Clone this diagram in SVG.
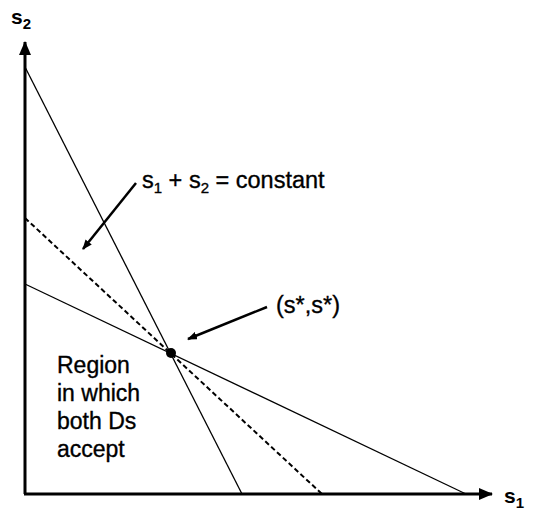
<svg xmlns="http://www.w3.org/2000/svg" width="535" height="510" viewBox="0 0 535 510">
<style>
text{font-family:"Liberation Sans",Arial,sans-serif;fill:#000}
.lbl{font-size:23.5px;stroke:#000;stroke-width:0.35}
.reg{font-size:23px;stroke:#000;stroke-width:0.35}
.ax{font-size:21px;font-weight:bold}
.sub{font-size:15px}
.thin{stroke:#000;stroke-width:1.3;fill:none}
.dash{stroke:#000;stroke-width:2;stroke-dasharray:5,3;fill:none}
.axis{stroke:#000;stroke-width:3;fill:none}
.ptr{stroke:#000;stroke-width:2.5;fill:none}
</style>
<defs>
<marker id="ah" markerWidth="10" markerHeight="8" refX="9" refY="4" orient="auto" markerUnits="userSpaceOnUse"><path d="M0,0 L10,4 L0,8 z" fill="#000"/></marker>
<marker id="ax" markerWidth="14" markerHeight="12" refX="13" refY="6" orient="auto" markerUnits="userSpaceOnUse"><path d="M0,0 L14,6 L0,12 z" fill="#000"/></marker>
</defs>
<g id="axes">
<line class="axis" x1="25" y1="494" x2="25" y2="42" marker-end="url(#ax)"/>
<line class="axis" x1="24" y1="494" x2="492" y2="494" marker-end="url(#ax)"/>
<text class="ax" x="11" y="24">s<tspan class="sub" dy="5">2</tspan></text>
<text class="ax" x="504" y="503">s<tspan class="sub" dy="5">1</tspan></text>
</g>
<g id="connectors">
<line class="thin" x1="25" y1="67" x2="242" y2="494"/>
<line class="thin" x1="25" y1="284" x2="466" y2="494"/>
<line class="dash" x1="25" y1="218" x2="322" y2="494"/>
<line class="ptr" x1="136" y1="183" x2="83" y2="249" marker-end="url(#ah)"/>
<line class="ptr" x1="267" y1="307" x2="188" y2="339" marker-end="url(#ah)"/>
</g>
<g id="point">
<circle cx="171" cy="353" r="5" fill="#000"/>
</g>
<g id="label-constant">
<text class="lbl" x="142" y="188">s<tspan class="sub" dy="5">1</tspan><tspan dy="-5"> + s</tspan><tspan class="sub" dy="5">2</tspan><tspan dy="-5"> = constant</tspan></text>
</g>
<g id="label-sstar">
<text class="lbl" x="276" y="313">(s*,s*)</text>
</g>
<g id="label-region">
<text class="reg" x="57" y="373">Region</text>
<text class="reg" x="57" y="401">in which</text>
<text class="reg" x="57" y="429">both Ds</text>
<text class="reg" x="57" y="457">accept</text>
</g>
</svg>
